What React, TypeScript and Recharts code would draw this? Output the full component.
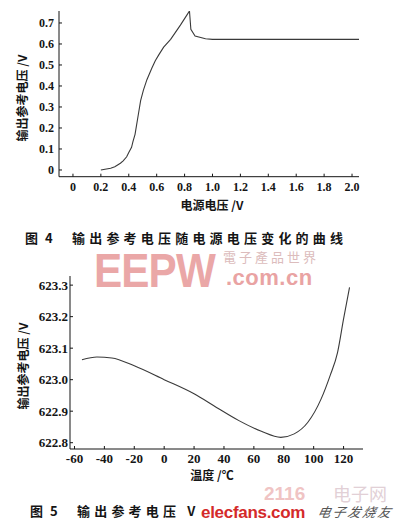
import { LineChart, Line, XAxis, YAxis } from 'recharts'

// Fig.4: output reference voltage vs supply voltage
const supplyV = [0.2, 0.27, 0.3, 0.34, 0.36, 0.385, 0.4, 0.42, 0.43, 0.445, 0.455, 0.47, 0.485, 0.505, 0.53, 0.565, 0.59, 0.615, 0.65, 0.7, 0.77, 0.815, 0.835, 0.845, 0.875, 0.95, 1.0, 2.05]
const refV = [0.0, 0.008, 0.015, 0.032, 0.043, 0.063, 0.083, 0.108, 0.135, 0.17, 0.21, 0.27, 0.33, 0.38, 0.43, 0.484, 0.52, 0.548, 0.585, 0.622, 0.69, 0.736, 0.757, 0.67, 0.638, 0.625, 0.622, 0.622]
const supplyTicks = [0, 0.2, 0.4, 0.6, 0.8, 1.0, 1.2, 1.4, 1.6, 1.8, 2.0]
const refTicks = [0, 0.1, 0.2, 0.3, 0.4, 0.5, 0.6, 0.7]

// Fig.5: output reference voltage vs temperature
const tempC = [-55, -45, -35, -20, 0, 20, 35, 50, 65, 78, 87, 96, 105, 111, 116, 120, 124]
const refV2 = [623.063, 623.072, 623.069, 623.044, 623.0, 622.955, 622.912, 622.87, 622.836, 622.817, 622.828, 622.864, 622.939, 623.013, 623.087, 623.193, 623.293]
const tempTicks = [-60, -40, -20, 0, 20, 40, 60, 80, 100, 120]
const refTicks2 = [622.8, 622.9, 623.0, 623.1, 623.2, 623.3]

const data1 = supplyV.map((v, i) => ({ x: v, y: refV[i] }))
const data2 = tempC.map((t, i) => ({ x: t, y: refV2[i] }))

const serif = '"Liberation Serif", "DejaVu Serif", serif'
const cjk = '"Noto Sans CJK SC", sans-serif'
const sans = '"Liberation Sans", sans-serif'
const ink = '#151515'

const fmt1 = (v: number) => (v === 0 ? '0' : v.toFixed(1))

function YTick({ x, y, payload, fs, gap, f }: any) {
  return (
    <g>
      <line x1={x} x2={x + 3} y1={y} y2={y} stroke={ink} strokeWidth={1} />
      <text x={x - gap} y={y} dy="0.36em" textAnchor="end" fontFamily={serif} fontWeight="bold" fontSize={fs} fill={ink}>
        {f(payload.value)}
      </text>
    </g>
  )
}

function XTick({ x, y, payload, fs, f }: any) {
  return (
    <g>
      <line x1={x} x2={x} y1={y} y2={y - 3} stroke={ink} strokeWidth={1} />
      <text x={x} y={y + 14} textAnchor="middle" fontFamily={serif} fontWeight="bold" fontSize={fs} fill={ink}>
        {f(payload.value)}
      </text>
    </g>
  )
}

const abs = (left: number, top: number, extra: any = {}) => ({ position: 'absolute' as const, left, top, whiteSpace: 'nowrap' as const, lineHeight: 1, ...extra })

export default function App() {
  return (
    <div style={{ position: 'absolute', left: 0, top: 0, width: 405, height: 531, background: '#fff', overflow: 'hidden' }}>
      {/* watermarks */}
      <div style={abs(94, 247, { fontFamily: sans, fontWeight: 'bold', fontSize: 48, color: '#eaa7a7', transform: 'scaleX(0.88)', transformOrigin: 'left top', letterSpacing: -1 })}>EEPW</div>
      <div style={abs(223, 250, { fontFamily: '"Noto Sans CJK TC", sans-serif', fontSize: 13, color: '#dcbcbc', letterSpacing: 3 })}>電子產品世界</div>
      <div style={abs(226, 267, { fontFamily: sans, fontWeight: 'bold', fontSize: 22, color: '#e9a3a3', letterSpacing: 0.5 })}>.com.cn</div>
      <div style={abs(264, 484, { fontFamily: sans, fontWeight: 'bold', fontSize: 19, color: '#f0c4c4' })}>2116</div>
      <div style={abs(333, 484, { fontFamily: cjk, fontSize: 18, color: '#e2d0d6' })}>电子网</div>

      <div style={abs(0, 0)}>
        <LineChart width={405} height={205} data={data1} margin={{ top: 11, right: 46, bottom: 0.3, left: 0 }}>
          <XAxis dataKey="x" type="number" domain={[-0.1, 2.05]} ticks={supplyTicks} interval={0} height={28}
            axisLine={{ stroke: ink, strokeWidth: 1 }} tickLine={false} tickSize={0} tickMargin={0}
            tick={(p: any) => <XTick {...p} fs={12} f={fmt1} />} allowDataOverflow />
          <YAxis dataKey="y" type="number" domain={[-0.032, 0.757]} ticks={refTicks} interval={0} width={59}
            axisLine={{ stroke: ink, strokeWidth: 1 }} tickLine={false} tickSize={0} tickMargin={0}
            tick={(p: any) => <YTick {...p} fs={12} gap={5} f={fmt1} />} allowDataOverflow />
          <Line type="linear" dataKey="y" stroke="#3a3a3a" strokeWidth={1.1} dot={false} isAnimationActive={false} />
        </LineChart>
      </div>

      <div style={abs(0, 260)}>
        <LineChart width={405} height={215} data={data2} margin={{ top: 16, right: 42, bottom: 0, left: 0 }}>
          <XAxis dataKey="x" type="number" domain={[-63, 133]} ticks={tempTicks} interval={0} height={26}
            axisLine={{ stroke: ink, strokeWidth: 1 }} tickLine={false} tickSize={0} tickMargin={0}
            tick={(p: any) => <XTick {...p} fs={13} f={(v: number) => String(v)} />} allowDataOverflow />
          <YAxis dataKey="y" type="number" domain={[622.78, 623.329]} ticks={refTicks2} interval={0} width={70}
            axisLine={{ stroke: ink, strokeWidth: 1 }} tickLine={false} tickSize={0} tickMargin={0}
            tick={(p: any) => <YTick {...p} fs={13} gap={2} f={(v: number) => v.toFixed(1)} />} allowDataOverflow />
          <Line type="monotone" dataKey="y" stroke="#3a3a3a" strokeWidth={1.1} dot={false} isAnimationActive={false} />
        </LineChart>
      </div>

      {/* axis titles */}
      <div style={abs(22, 98, { transform: 'translate(-50%, -50%) rotate(-90deg)', fontFamily: cjk, fontWeight: 700, fontSize: 12, color: ink })}>输出参考电压 /V</div>
      <div style={abs(212, 205, { transform: 'translate(-50%, -50%)', fontFamily: cjk, fontWeight: 700, fontSize: 12, color: ink })}>电源电压 /V</div>
      <div style={abs(23, 366, { transform: 'translate(-50%, -50%) rotate(-90deg)', fontFamily: cjk, fontWeight: 700, fontSize: 12, color: ink })}>输出参考电压 /V</div>
      <div style={abs(212, 475, { transform: 'translate(-50%, -50%)', fontFamily: cjk, fontWeight: 700, fontSize: 12, color: ink })}>温度 /℃</div>

      {/* captions */}
      <div style={abs(25, 231, { fontFamily: cjk, fontWeight: 700, fontSize: 13, color: ink, letterSpacing: 2 })}>图 4</div>
      <div style={abs(72, 231, { fontFamily: cjk, fontWeight: 700, fontSize: 13, color: ink, letterSpacing: 4.2 })}>输出参考电压随电源电压变化的曲线</div>
      <div style={abs(30, 504, { fontFamily: cjk, fontWeight: 700, fontSize: 13, color: ink, letterSpacing: 2 })}>图 5</div>
      <div style={abs(77, 504, { fontFamily: cjk, fontWeight: 700, fontSize: 13, color: ink, letterSpacing: 4.2 })}>输出参考电压 V</div>
      <div style={abs(318, 505, { fontFamily: cjk, fontStyle: 'italic', fontSize: 13, color: '#555', letterSpacing: 2, transform: 'skewX(-12deg)' })}>电子发烧友</div>
      <div style={abs(201, 504, { fontFamily: sans, fontWeight: 'bold', fontSize: 17, color: '#d42a2a', letterSpacing: -0.3 })}>elecfans.com</div>
    </div>
  )
}
